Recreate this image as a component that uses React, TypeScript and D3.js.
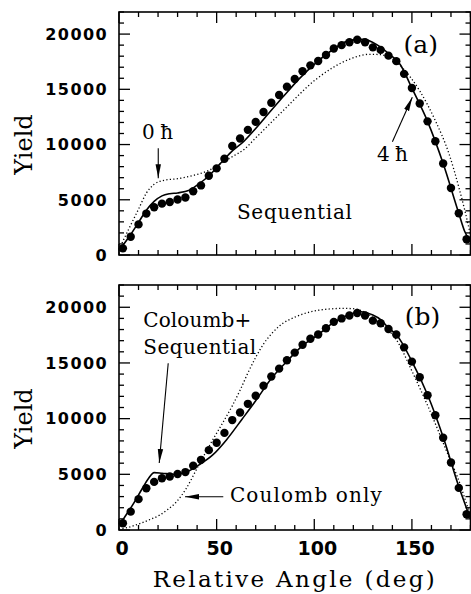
import * as d3 from 'd3';
import { useEffect, useRef } from 'react';

// measured yield (same data shown in both panels)
const angles = [
  2, 6, 10, 14, 18, 22, 26, 30, 34, 38, 42, 46, 50, 54, 58, 62, 66, 70, 74, 78,
  82, 86, 90, 94, 98, 102, 106, 110, 114, 118, 122, 126, 130, 134, 138, 142,
  146, 150, 154, 158, 162, 166, 170, 174, 178,
];
const yields = [
  600, 1650, 2770, 3750, 4320, 4650, 4800, 5030, 5200, 5770, 6300, 7170, 7840,
  8720, 9870, 10550, 11330, 12050, 12950, 13780, 14490, 15240, 15930, 16640,
  17170, 17560, 18110, 18690, 19000, 19260, 19490, 19260, 18800, 18570, 18050,
  17550, 16400, 15120, 13720, 12100, 10300, 8280, 6060, 3780, 1420,
];

// calculations, [angle, yield]
const seq4h = [
  [0, 400], [5, 1600], [10, 2950], [14, 4050], [18, 4850], [22, 5350],
  [26, 5550], [30, 5620], [36, 5860], [41, 6450], [46, 7150], [52, 8300],
  [57, 9250], [64, 10300], [70, 11450], [77, 12900], [84, 14320], [92, 15900],
  [101, 17420], [110, 18650], [118, 19430], [125, 19520], [132, 19050],
  [139, 18100], [144, 17250], [150, 15100], [158, 12100], [166, 8280],
  [174, 3780], [177, 2150], [180, 1150],
];
const seq0h = [
  [0, 500], [5, 2350], [10, 4150], [14, 5600], [18, 6400], [23, 6760],
  [30, 6910], [38, 7200], [46, 7660], [52, 8260], [58, 8900], [64, 9550],
  [70, 10600], [84, 13060], [101, 15920], [118, 17720], [128, 18170],
  [133, 18150], [139, 17870], [145, 16970], [154, 14860], [162, 12160],
  [169, 9160], [174, 6150], [177, 4100], [180, 1800],
];
const coulSeq = [
  [1, 600], [2, 900], [7, 2250], [12, 3750], [15, 4600], [18, 5150],
  [22, 5100], [28, 5010], [35, 5240], [41, 5850], [48, 6740], [55, 8090],
  [63, 9950], [70, 11600], [78, 13600], [86, 15150], [94, 16550], [102, 17550],
  [110, 18650], [118, 19350], [124, 19600], [130, 19300], [134, 18900],
  [138, 18150], [142, 17550], [150, 15150], [158, 12150], [166, 8350],
  [174, 3900], [180, 1000],
];
const coulOnly = [
  [0, 50], [5, 250], [11, 600], [16, 950], [21, 1350], [25, 1850], [29.5, 2550],
  [34.5, 3750], [40, 5550], [46.5, 7640], [53.5, 9740], [58, 11150],
  [62, 12550], [66, 14100], [70, 15500], [74, 16700], [78, 17600], [82, 18300],
  [91, 19180], [99, 19630], [108, 19850], [115, 19900], [120, 19870],
  [125, 19630], [133.5, 18590], [142, 17090], [150.5, 14090], [159, 10790],
  [167.5, 7190], [174.5, 4200], [178.5, 2100], [180, 1400],
];

const xTickLabels = [0, 50, 100, 150];
const yTickLabels = [0, 5000, 10000, 15000, 20000];
const panelNames = ['(a)', '(b)'];

const serif = '"DejaVu Serif", serif';
const sans = '"DejaVu Sans", sans-serif';

export default function App() {
  const chartRef = useRef<SVGSVGElement>(null);

  const width = 471;
  const height = 594;
  const left = 119;
  const right = 470.5;

  useEffect(() => {
    const svg = d3.select(chartRef.current);
    svg.selectAll('*').remove();

    svg
      .append('defs')
      .append('marker')
      .attr('id', 'head')
      .attr('markerUnits', 'userSpaceOnUse')
      .attr('markerWidth', 15)
      .attr('markerHeight', 7)
      .attr('refX', 14)
      .attr('refY', 3.5)
      .attr('orient', 'auto')
      .append('path')
      .attr('d', 'M0,0.8L14,3.5L0,6.2Z')
      .attr('fill', 'black');

    const x = d3.scaleLinear().domain([0, 180]).range([left, right]);

    const panels = [
      {
        top: 12,
        bottom: 255,
        solid: seq4h,
        dotted: seq0h,
        name: panelNames[0],
        nameAt: [154.5, 18290],
        texts: [
          { t: '0 ħ', a: 11.8, v: 10500, len: 31 },
          { t: '4 ħ', a: 132.1, v: 8540, len: 31 },
          { t: 'Sequential', a: 60.4, v: 3260, len: 115 },
        ],
        arrows: [
          [20.1, 9660, 20.1, 6944],
          [140, 10260, 150.2, 14280],
        ],
      },
      {
        top: 285,
        bottom: 530,
        solid: coulSeq,
        dotted: coulOnly,
        name: panelNames[1],
        nameAt: [155.4, 18410],
        texts: [
          { t: 'Coloumb+', a: 12.4, v: 18260, len: 108 },
          { t: 'Sequential', a: 12.4, v: 15800, len: 113 },
          { t: 'Coulomb only', a: 56.8, v: 2540, len: 152 },
        ],
        arrows: [
          [25.2, 14970, 20.6, 6020],
          [53.4, 2990, 33.8, 2990],
        ],
      },
    ];

    panels.forEach((p, pi) => {
      const y = d3.scaleLinear().domain([0, 22000]).range([p.bottom, p.top]);
      const g = svg.append('g');

      // ticks on all four sides, pointing inward
      const xMinor = d3.range(0, 181, 10);
      const yMinor = d3.range(0, 22001, 1000);
      const tick = (major: boolean) => (major ? 11 : 5);
      xMinor.forEach((a) => {
        const len = tick(a % 50 === 0);
        g.append('line')
          .attr('x1', x(a)).attr('x2', x(a))
          .attr('y1', p.bottom).attr('y2', p.bottom - len)
          .attr('stroke', 'black').attr('stroke-width', 1.3);
        g.append('line')
          .attr('x1', x(a)).attr('x2', x(a))
          .attr('y1', p.top).attr('y2', p.top + len)
          .attr('stroke', 'black').attr('stroke-width', 1.3);
      });
      yMinor.forEach((v) => {
        const len = tick(v % 5000 === 0);
        g.append('line')
          .attr('x1', left).attr('x2', left + len)
          .attr('y1', y(v)).attr('y2', y(v))
          .attr('stroke', 'black').attr('stroke-width', 1.3);
        g.append('line')
          .attr('x1', right).attr('x2', right - len)
          .attr('y1', y(v)).attr('y2', y(v))
          .attr('stroke', 'black').attr('stroke-width', 1.3);
      });

      // frame
      g.append('rect')
        .attr('x', left)
        .attr('y', p.top)
        .attr('width', right - left)
        .attr('height', p.bottom - p.top)
        .attr('fill', 'none')
        .attr('stroke', 'black')
        .attr('stroke-width', 1.6);

      // y tick labels
      g.selectAll('.ylab')
        .data(yTickLabels)
        .enter()
        .append('text')
        .attr('x', 108)
        .attr('y', (d) => y(d))
        .attr('dy', '0.36em')
        .attr('text-anchor', 'end')
        .attr('font-family', sans)
        .attr('font-weight', 'bold')
        .attr('font-size', 16)
        .attr('letter-spacing', 1.4)
        .text((d) => String(d));

      // axis title
      const cy = (p.top + p.bottom) / 2 + 11;
      g.append('text')
        .attr('transform', `translate(32, ${cy}) rotate(-90)`)
        .attr('text-anchor', 'middle')
        .attr('font-family', serif)
        .attr('font-size', 24)
        .text('Yield');

      const line = d3
        .line<number[]>()
        .x((d) => x(d[0]))
        .y((d) => y(d[1]))
        .curve(d3.curveMonotoneX);

      g.append('path')
        .attr('d', line(p.dotted))
        .attr('fill', 'none')
        .attr('stroke', 'black')
        .attr('stroke-width', 1.3)
        .attr('stroke-dasharray', '1.2 2.3');

      g.append('path')
        .attr('d', line(p.solid))
        .attr('fill', 'none')
        .attr('stroke', 'black')
        .attr('stroke-width', 1.6);

      g.selectAll('circle')
        .data(angles)
        .enter()
        .append('circle')
        .attr('cx', (d) => x(d))
        .attr('cy', (d, i) => y(yields[i]))
        .attr('r', 4.2)
        .attr('fill', 'black');

      // annotations
      p.texts.forEach((t) => {
        g.append('text')
          .attr('x', x(t.a))
          .attr('y', y(t.v))
          .attr('font-family', serif)
          .attr('font-size', 20)
          .attr('textLength', t.len)
          .attr('lengthAdjust', 'spacing')
          .text(t.t);
      });
      p.arrows.forEach((a) => {
        g.append('line')
          .attr('x1', x(a[0]))
          .attr('y1', y(a[1]))
          .attr('x2', x(a[2]))
          .attr('y2', y(a[3]))
          .attr('stroke', 'black')
          .attr('stroke-width', 1.1)
          .attr('marker-end', 'url(#head)');
      });

      g.append('text')
        .attr('x', x(p.nameAt[0]))
        .attr('y', y(p.nameAt[1]))
        .attr('text-anchor', 'middle')
        .attr('font-family', serif)
        .attr('font-size', 25)
        .text(p.name);

      if (pi === 1) {
        g.selectAll('.xlab')
          .data(xTickLabels)
          .enter()
          .append('text')
          .attr('x', (d) => x(d) + 3)
          .attr('y', 554.5)
          .attr('text-anchor', 'middle')
          .attr('font-family', sans)
          .attr('font-weight', 'bold')
          .attr('font-size', 19)
          .text((d) => String(d));

        g.append('text')
          .attr('x', 152.7)
          .attr('y', 587)
          .attr('font-family', serif)
          .attr('font-size', 23)
          .attr('textLength', 282)
          .attr('lengthAdjust', 'spacing')
          .text('Relative Angle (deg)');
      }
    });
  }, []);

  return (
    <svg
      ref={chartRef}
      width={width}
      height={height}
      style={{ position: 'absolute', left: 0, top: 0, background: 'white' }}
    />
  );
}
